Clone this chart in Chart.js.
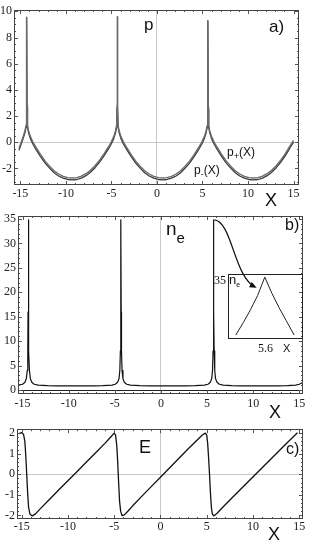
<!DOCTYPE html>
<html>
<head>
<meta charset="utf-8">
<script src="https://cdn.jsdelivr.net/npm/chart.js@4.4.1/dist/chart.umd.min.js"></script>
<style>
body { margin: 0; background: #fff; }
#page { position: relative; width: 327px; height: 545px; overflow: hidden; }
canvas { position: absolute; left: 0; }
.lab { position: absolute; font-family: "Liberation Sans", Arial, sans-serif; line-height: 1; color: #111; white-space: nowrap; }
.ser { font-family: "Liberation Serif", "Times New Roman", serif; }
.sub { position: relative; }
#inset { position: absolute; left: 228px; top: 274px; width: 73px; height: 63px; border: 1px solid #222; }
</style>
</head>
<body>
<div id="page">
  <canvas id="ca" width="327" height="205" style="top:0"></canvas>
  <canvas id="cb" width="327" height="215" style="top:205px"></canvas>
  <canvas id="cc" width="327" height="125" style="top:420px"></canvas>
  <div id="inset"><canvas id="ci" width="73" height="63" style="top:0"></canvas></div>

  <div class="lab" style="left:144px;top:15.5px;font-size:17px">p</div>
  <div class="lab" style="left:269px;top:17.5px;font-size:17px">a)</div>
  <div class="lab" style="left:227px;top:146px;font-size:12px">p<span class="sub" style="font-size:9px;top:3px">+</span>(X)</div>
  <div class="lab" style="left:194px;top:164px;font-size:12px">p<span class="sub" style="font-size:9px;top:3px">-</span>(X)</div>
  <div class="lab" style="left:265px;top:191px;font-size:18px">X</div>

  <div class="lab" style="left:166px;top:219px;font-size:19px">n<span class="sub" style="font-size:15px;top:8px">e</span></div>
  <div class="lab" style="left:285px;top:216.5px;font-size:16px">b)</div>
  <div class="lab" style="left:269px;top:403px;font-size:18px">X</div>
  <div class="lab ser" style="left:214px;top:274px;font-size:12px">35</div>
  <div class="lab" style="left:229px;top:272.5px;font-size:13px">n<span class="sub" style="font-size:7px;top:3px">e</span></div>
  <div class="lab ser" style="left:258px;top:342px;font-size:12px">5.6</div>
  <div class="lab" style="left:283px;top:342.5px;font-size:11px">X</div>

  <div class="lab" style="left:139px;top:438px;font-size:18px">E</div>
  <div class="lab" style="left:286px;top:440.5px;font-size:16px">c)</div>
  <div class="lab" style="left:268px;top:525px;font-size:18px">X</div>
</div>
<script>
// panel a) momentum p+(X) and p-(X)
const pX = [-15.15, -14.9, -14.7, -14.5, -14.38, -14.33, -14.3, -14.27, -14.22, -14.1, -13.9, -13.6, -13.3,
    -12.8, -12.3, -11.8, -11.3, -10.8, -10.3, -9.8, -9.3, -8.8, -8.3, -7.8, -7.3, -6.8, -6.3, -5.8, -5.3, -5.05,
    -4.75, -4.55, -4.43, -4.38, -4.35, -4.32, -4.27, -4.15, -3.95, -3.65, -3.35, -2.85, -2.35, -1.85, -1.35,
    -0.85, -0.35, 0.15, 0.625, 1.1, 1.6, 2.1, 2.6, 3.1, 3.6, 4.1, 4.6, 4.9, 5.2, 5.4, 5.52, 5.57, 5.6, 5.63,
    5.68, 5.8, 6.0, 6.3, 6.6, 7.1, 7.6, 8.1, 8.6, 9.1, 9.6, 10.1, 10.6, 11.1, 11.6, 12.1, 12.6, 13.1, 13.6,
    14.1, 14.4, 14.7, 15.0]
const pMinus = [-0.6, -0.12, 0.28, 0.72, 1.15, 2.6, 9.5, 2.6, 1.15, 0.72, 0.28, -0.17, -0.52,
    -1.07, -1.57, -1.97, -2.32, -2.57, -2.74, -2.84, -2.87, -2.84, -2.73, -2.55, -2.29, -1.94, -1.52, -1.02, -0.47, -0.17,
    0.28, 0.72, 1.15, 2.6, 9.55, 2.6, 1.15, 0.72, 0.28, -0.17, -0.52, -1.07, -1.57, -1.97, -2.32,
    -2.57, -2.74, -2.84, -2.87, -2.84, -2.74, -2.57, -2.32, -1.97, -1.57, -1.07, -0.52, -0.17, 0.28, 0.72, 1.15, 2.5, 9.25, 2.5,
    1.15, 0.72, 0.28, -0.17, -0.52, -1.07, -1.57, -1.97, -2.32, -2.57, -2.74, -2.84, -2.87, -2.84, -2.73, -2.55, -2.29, -1.94, -1.52,
    -1.02, -0.67, -0.32, 0.0]
const pPlus = [-0.45, 0.03, 0.43, 0.87, 1.3, 2.8, 9.55, 2.8, 1.3, 0.87, 0.43, -0.02, -0.37,
    -0.92, -1.42, -1.82, -2.17, -2.42, -2.6, -2.7, -2.73, -2.7, -2.59, -2.4, -2.14, -1.79, -1.37, -0.87, -0.32, -0.02,
    0.43, 0.87, 1.3, 2.8, 9.6, 2.8, 1.3, 0.87, 0.43, -0.02, -0.37, -0.92, -1.42, -1.82, -2.17,
    -2.42, -2.6, -2.7, -2.73, -2.7, -2.6, -2.42, -2.17, -1.82, -1.42, -0.92, -0.37, -0.02, 0.43, 0.87, 1.3, 2.7, 9.3, 2.7,
    1.3, 0.87, 0.43, -0.02, -0.37, -0.92, -1.42, -1.82, -2.17, -2.42, -2.6, -2.7, -2.73, -2.7, -2.59, -2.4, -2.14, -1.79, -1.37,
    -0.87, -0.52, -0.17, 0.15]

// panel b) electron density n_e
const nX = [-15.5, -15.0, -14.75, -14.6, -14.5, -14.44, -14.41, -14.38, -14.35, -14.32, -14.26, -14.16, -14.0, -13.75,
    -13.3, -12.3, -11.3, -9.36, -7.3, -6.3, -5.3, -4.96, -4.7, -4.55, -4.46, -4.4, -4.37, -4.34, -4.31, -4.28,
    -4.22, -4.12, -3.97, -3.72, -3.3, -2.3, -1.3, 0.68, 2.7, 3.7, 4.7, 5.1, 5.35, 5.5, 5.59, 5.65, 5.68, 5.71,
    5.74, 5.77, 5.83, 5.92, 6.08, 6.33, 6.75, 7.7, 8.7, 10.7, 12.7, 13.7, 14.6, 15.0, 15.3]
const nE = [1.0, 1.2, 1.6, 2.3, 4.0, 8, 16, 34.8, 16, 8, 4.0, 2.3, 1.6, 1.2,
    1.02, 0.92, 0.87, 0.85, 0.87, 0.92, 1.02, 1.2, 1.6, 2.3, 4.0, 8, 16, 34.8, 16, 8,
    4.0, 2.3, 1.6, 1.2, 1.02, 0.92, 0.87, 0.85, 0.87, 0.92, 1.02, 1.2, 1.6, 2.3, 4.0, 8, 16, 34.8,
    16, 8, 4.0, 2.3, 1.6, 1.2, 1.02, 0.92, 0.87, 0.85, 0.87, 0.92, 1.02, 1.2, 1.5]

// zoomed peak shown in the inset
const insetX = [5.519, 5.54, 5.56, 5.58, 5.6, 5.62, 5.64, 5.66, 5.682]
const insetN = [15, 19.2, 23.5, 28.3, 34.5, 29.0, 24.2, 19.8, 15]

// panel c) electric field E
const eX = [-15.3, -15.0, -14.8, -14.65, -14.55, -14.45, -14.35, -14.25, -14.1, -13.85, -13.5, -13.0, -12.0, -11.0,
    -10.0, -9.0, -8.0, -7.0, -6.0, -5.4, -5.0, -4.85, -4.72, -4.62, -4.52, -4.42, -4.3, -4.15, -3.9, -3.5,
    -3.0, -2.0, -1.0, 0.0, 1.0, 2.0, 3.0, 4.0, 4.55, 4.85, 5.0, 5.1, 5.2, 5.3, 5.4, 5.5, 5.6, 5.75,
    6.1, 6.6, 7.5, 8.5, 9.5, 10.5, 11.5, 12.5, 13.5, 14.3, 14.8]
const eField = [1.97, 2.02, 1.95, 1.6, 0.9, 0, -0.9, -1.6, -1.93, -2.02, -1.92, -1.68, -1.22, -0.76,
    -0.31, 0.14, 0.6, 1.05, 1.5, 1.8, 2.0, 1.9, 1.4, 0.6, -0.4, -1.3, -1.8, -2.0, -1.97, -1.78,
    -1.53, -1.06, -0.6, -0.14, 0.32, 0.78, 1.24, 1.68, 1.92, 2.0, 1.9, 1.5, 0.8, 0, -0.9, -1.6, -1.92, -2.02,
    -1.9, -1.66, -1.25, -0.8, -0.35, 0.1, 0.55, 1.0, 1.45, 1.8, 2.02]

Chart.defaults.font.family = "'Liberation Serif', 'Times New Roman', Times, serif"
Chart.defaults.font.size = 12
const tickFont = { family: "'Liberation Serif', 'Times New Roman', Times, serif", size: 12 }

function pts(xs, ys) {
    return xs.map((x, i) => ({ x: x, y: ys[i] }))
}

// Mathematica style frame with small inward ticks on all four sides
const framePlugin = {
    id: "frame",
    afterDatasetsDraw(chart, args, o) {
        const ctx = chart.ctx, a = chart.chartArea
        const xs = chart.scales.x, ys = chart.scales.y
        ctx.save()
        ctx.strokeStyle = "#555"
        ctx.lineWidth = 1
        ctx.beginPath()
        for (let i = Math.ceil(xs.min / o.xStep); i * o.xStep <= xs.max; i++) {
            const px = Math.round(xs.getPixelForValue(i * o.xStep)) + 0.5
            const len = (i % o.xEvery === 0) ? 4 : 2
            ctx.moveTo(px, a.bottom); ctx.lineTo(px, a.bottom - len)
            ctx.moveTo(px, a.top); ctx.lineTo(px, a.top + len)
        }
        for (let i = Math.ceil(ys.min / o.yStep); i * o.yStep <= ys.max; i++) {
            const py = Math.round(ys.getPixelForValue(i * o.yStep)) + 0.5
            const len = (i % o.yEvery === 0) ? 4 : 2
            ctx.moveTo(a.left, py); ctx.lineTo(a.left + len, py)
            ctx.moveTo(a.right, py); ctx.lineTo(a.right - len, py)
        }
        ctx.stroke()
        ctx.strokeStyle = "#444"
        ctx.strokeRect(Math.round(a.left) + 0.5, Math.round(a.top) + 0.5,
            Math.round(a.right - a.left) - 1, Math.round(a.bottom - a.top) - 1)
        ctx.restore()
    }
}

// curved arrow from the top of the third spike to the inset
const arrowPlugin = {
    id: "arrow",
    afterDraw(chart) {
        const x = chart.scales.x, y = chart.scales.y, ctx = chart.ctx
        const p = [[5.8, 34.8], [7.7, 34.4], [7.92, 23.3], [10.18, 21.1]]
            .map(q => [x.getPixelForValue(q[0]), y.getPixelForValue(q[1])])
        ctx.save()
        ctx.strokeStyle = "#111"
        ctx.fillStyle = "#111"
        ctx.lineWidth = 1.2
        ctx.beginPath()
        ctx.moveTo(p[0][0], p[0][1])
        ctx.bezierCurveTo(p[1][0], p[1][1], p[2][0], p[2][1], p[3][0], p[3][1])
        ctx.stroke()
        const ang = Math.atan2(p[3][1] - p[2][1], p[3][0] - p[2][0])
        ctx.translate(p[3][0], p[3][1])
        ctx.rotate(ang)
        ctx.beginPath()
        ctx.moveTo(2, 0); ctx.lineTo(-5, -3); ctx.lineTo(-5, 3)
        ctx.closePath()
        ctx.fill()
        ctx.restore()
    }
}

function panel(id, datasets, cfg, extra) {
    return new Chart(document.getElementById(id), {
        type: "line",
        data: { datasets: datasets },
        plugins: [framePlugin].concat(extra || []),
        options: {
            responsive: false,
            animation: false,
            events: [],
            layout: { padding: { top: cfg.top, right: cfg.right, left: 0, bottom: 0 } },
            elements: { point: { radius: 0 }, line: { tension: 0, borderJoinStyle: "round" } },
            plugins: {
                legend: { display: false },
                tooltip: { enabled: false },
                frame: cfg.frame
            },
            scales: {
                x: {
                    type: "linear", min: cfg.x[0], max: cfg.x[1],
                    afterFit: s => { s.height = cfg.xh },
                    border: { display: false },
                    grid: { drawTicks: false, color: c => c.tick.value === 0 ? "#c8c8c8" : "rgba(0,0,0,0)" },
                    ticks: { stepSize: 5, includeBounds: false, autoSkip: false, maxRotation: 0,
                        padding: cfg.xpad, color: "#222", font: tickFont }
                },
                y: {
                    min: cfg.y[0], max: cfg.y[1],
                    afterFit: s => { s.width = cfg.yw },
                    border: { display: false },
                    grid: { drawTicks: false, color: c => c.tick.value === 0 ? cfg.zero : "rgba(0,0,0,0)" },
                    ticks: { stepSize: cfg.ystep, includeBounds: false, autoSkip: false,
                        padding: 2, color: "#222", font: tickFont }
                }
            }
        }
    })
}

panel("ca", [
    { data: pts(pX, pPlus), borderColor: "#6a6a6a", borderWidth: 1.4 },
    { data: pts(pX, pMinus), borderColor: "#3a3a3a", borderWidth: 1.3 }
], { top: 10, right: 28, yw: 14, xh: 20, xpad: 2, x: [-15.7, 15.6], y: [-3.26, 10.1], ystep: 2,
    zero: "#c8c8c8", frame: { xStep: 1, xEvery: 5, yStep: 0.5, yEvery: 4 } })

panel("cb", [
    { data: pts(nX, nE), borderColor: "#111", borderWidth: 1.2 }
], { top: 11, right: 24, yw: 18, xh: 26, xpad: 3, x: [-15.5, 15.4], y: [-0.8, 35.6], ystep: 5,
    zero: "#222", frame: { xStep: 1, xEvery: 5, yStep: 1, yEvery: 5 } }, [arrowPlugin])

panel("cc", [
    { data: pts(eX, eField), borderColor: "#111", borderWidth: 1.3 }
], { top: 7, right: 24, yw: 17, xh: 26, xpad: 1, x: [-15.5, 15.4], y: [-2.17, 2.19], ystep: 1,
    zero: "#c8c8c8", frame: { xStep: 1, xEvery: 5, yStep: 0.2, yEvery: 5 } })

// inset: the same peak drawn alone, no axes
new Chart(document.getElementById("ci"), {
    type: "line",
    data: { datasets: [{ data: pts(insetX, insetN), borderColor: "#222", borderWidth: 1 }] },
    options: {
        responsive: false,
        animation: false,
        events: [],
        elements: { point: { radius: 0 }, line: { tension: 0 } },
        plugins: { legend: { display: false }, tooltip: { enabled: false } },
        scales: {
            x: { type: "linear", display: false, min: 5.5, max: 5.704 },
            y: { display: false, min: 14, max: 35.2 }
        }
    }
})
</script>
</body>
</html>
